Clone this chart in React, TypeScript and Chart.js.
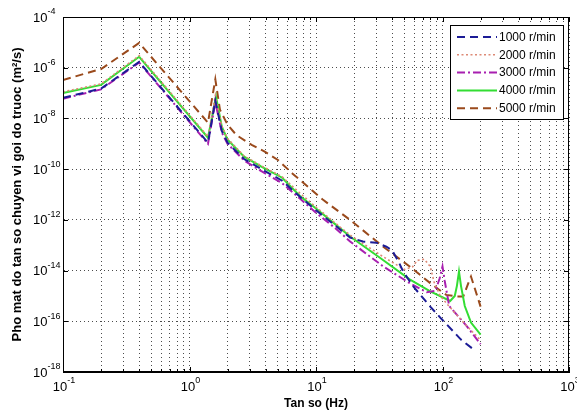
import React, { useEffect, useRef } from 'react';
import { Chart, registerables } from 'chart.js';

Chart.register(...registerables);

// ---- Data ----
const seriesLabels = ['1000 r/min', '2000 r/min', '3000 r/min', '4000 r/min', '5000 r/min'];

const freq1000 = [0.1, 0.2, 0.4, 1.4, 1.6, 1.8, 2.0, 2.7, 3.7, 5.4, 7.5, 10, 14, 18.6, 23.5, 30, 36, 40, 45, 49, 59, 80, 96, 140, 175];
const psd1000 = [6.5e-8, 1.5e-7, 1.7e-6, 1.1e-9, 5.0e-8, 3.2e-9, 1.1e-9, 2.5e-10, 1.0e-10, 3.5e-11, 7.9e-12, 2.4e-12, 6.3e-13, 2.0e-13, 1.4e-13, 1.26e-13, 8.7e-14, 6.3e-14, 2.2e-14, 8.9e-15, 2.3e-15, 3.8e-16, 1.4e-16, 1.9e-17, 7.9e-18];

const freq2000 = [0.1, 0.2, 0.4, 1.4, 1.6, 1.8, 2.0, 2.7, 3.7, 5.4, 7.5, 10, 14, 18.6, 34, 50, 58, 63, 72, 80, 86, 96, 110, 150, 200];
const psd2000 = [1.12e-7, 2.3e-7, 3.0e-6, 1.9e-9, 7.9e-8, 5.0e-9, 1.6e-9, 3.3e-10, 1.35e-10, 5.0e-11, 1.1e-11, 3.2e-12, 7.9e-13, 2.5e-13, 3.5e-14, 1.1e-14, 1.4e-14, 2.5e-14, 2.8e-14, 1.45e-14, 3.4e-15, 1.0e-15, 4.5e-16, 7.9e-17, 1.8e-17];

const freq3000 = [0.1, 0.2, 0.4, 1.4, 1.6, 1.8, 2.0, 2.7, 3.7, 5.4, 7.5, 10, 14, 18.6, 34, 55, 75, 88, 95, 100, 104, 113, 156, 200];
const psd3000 = [6.0e-8, 1.4e-7, 1.6e-6, 1.0e-9, 4.5e-8, 2.8e-9, 1.0e-9, 2.2e-10, 8.3e-11, 2.8e-11, 6.8e-12, 1.9e-12, 5.0e-13, 1.4e-13, 1.45e-14, 3.2e-15, 1.4e-15, 1.6e-15, 5.0e-15, 1.45e-14, 4.0e-15, 4.0e-16, 6.3e-17, 1.26e-17];

const freq4000 = [0.1, 0.2, 0.4, 1.4, 1.62, 1.8, 2.0, 2.7, 3.7, 5.4, 7.5, 10, 14, 18.6, 32, 55, 80, 115, 125, 130, 135, 140, 150, 168, 200];
const psd4000 = [1.0e-7, 2.1e-7, 2.7e-6, 1.74e-9, 7.1e-8, 4.7e-9, 1.45e-9, 3.1e-10, 1.26e-10, 4.6e-11, 8.5e-12, 2.8e-12, 7.1e-13, 2.2e-13, 3.2e-14, 4.5e-15, 1.5e-15, 6.3e-16, 1.0e-15, 2.5e-15, 9.1e-15, 2.5e-15, 4.0e-16, 8.9e-17, 3.0e-17];

const freq5000 = [0.1, 0.2, 0.4, 1.4, 1.6, 1.74, 2.0, 2.35, 3.1, 3.9, 5.0, 6.5, 9, 11.3, 18.6, 34, 55, 80, 107, 130, 146, 160, 168, 200];
const psd5000 = [3.3e-7, 8.9e-7, 9.5e-6, 6.8e-9, 3.5e-7, 2.2e-8, 5.6e-9, 2.2e-9, 9.1e-10, 5.0e-10, 2.3e-10, 6.8e-11, 1.7e-11, 6.3e-12, 1.0e-12, 8.7e-14, 1.45e-14, 3.2e-15, 1.1e-15, 9.5e-16, 9.5e-16, 3.2e-15, 5.8e-15, 3.8e-16];

const seriesFreqs = [freq1000, freq2000, freq3000, freq4000, freq5000];
const seriesValues = [psd1000, psd2000, psd3000, psd4000, psd5000];
const seriesColors = ['#1c1c96', '#dd8a76', '#a81fb0', '#33dd33', '#9a4a1c'];
const seriesDashes = [[8, 5], [2, 2.5], [8, 3, 2, 3], [], [8, 5]];
const seriesWidths = [2, 1.6, 2, 2, 2];

// tick values and labels: base "10" with exponent
const yTickValues = [1e-18, 1e-16, 1e-14, 1e-12, 1e-10, 1e-8, 1e-6, 1e-4];
const yTickExponents = ['-18', '-16', '-14', '-12', '-10', '-8', '-6', '-4'];
const xMajorValues = [0.1, 1, 10, 100, 1000];
const xTickExponents = ['-1', '0', '1', '2', '3'];
const tickBase = '10';
const xMinorMultipliers = [1, 2, 3, 4, 5, 6, 7, 8, 9];

const xTitle = 'Tan so (Hz)';
const yTitle = 'Pho mat do tan so chuyen vi goi do truoc (m²/s)';

const FONT = '"Liberation Sans", Arial, sans-serif';

function buildXTicks() {
  const ticks: { value: number }[] = [];
  for (let d = 0; d < xMajorValues.length - 1; d++) {
    for (const m of xMinorMultipliers) {
      ticks.push({ value: Number((m * xMajorValues[d]).toPrecision(3)) });
    }
  }
  ticks.push({ value: xMajorValues[xMajorValues.length - 1] });
  return ticks;
}

function isMajorX(v: number) {
  return xMajorValues.findIndex((m) => Math.abs(v / m - 1) < 1e-6);
}

const framePlugin = {
  id: 'frameAndTicks',
  afterDraw(chart: any) {
    const { ctx, chartArea } = chart;
    const { left, right, top, bottom } = chartArea;
    ctx.save();
    ctx.strokeStyle = '#000';
    ctx.lineWidth = 1;
    ctx.setLineDash([]);
    ctx.strokeRect(left + 0.5, top + 0.5, right - left - 1, bottom - top - 1);
    const xs = chart.scales.x;
    for (const t of xs.ticks) {
      const px = Math.round(xs.getPixelForValue(t.value)) + 0.5;
      const len = isMajorX(t.value) >= 0 ? 5 : 3;
      ctx.beginPath();
      ctx.moveTo(px, bottom);
      ctx.lineTo(px, bottom - len);
      ctx.moveTo(px, top);
      ctx.lineTo(px, top + len);
      ctx.stroke();
    }
    const ys = chart.scales.y;
    for (const v of yTickValues) {
      const py = Math.round(ys.getPixelForValue(v)) + 0.5;
      ctx.beginPath();
      ctx.moveTo(left, py);
      ctx.lineTo(left + 5, py);
      ctx.moveTo(right, py);
      ctx.lineTo(right - 5, py);
      ctx.stroke();
    }

    // tick labels: "10" with raised exponent
    const baseFont = `13px ${FONT}`;
    const expFont = `9px ${FONT}`;
    ctx.fillStyle = '#000';
    ctx.textBaseline = 'middle';
    ctx.textAlign = 'left';
    yTickValues.forEach((v, i) => {
      const py = ys.getPixelForValue(v);
      const x0 = left - 30;
      ctx.font = baseFont;
      ctx.fillText(tickBase, x0, py + 1);
      const w = ctx.measureText(tickBase).width;
      ctx.font = expFont;
      ctx.fillText(yTickExponents[i], x0 + w, py - 5);
    });
    xMajorValues.forEach((v, i) => {
      const px = xs.getPixelForValue(v);
      ctx.font = baseFont;
      const w = ctx.measureText(tickBase).width;
      ctx.font = expFont;
      const we = ctx.measureText(xTickExponents[i]).width;
      const x0 = px - (w + we) / 2 + 1;
      ctx.font = baseFont;
      ctx.fillText(tickBase, x0, bottom + 15);
      ctx.font = expFont;
      ctx.fillText(xTickExponents[i], x0 + w, bottom + 9);
    });
    ctx.restore();

    // legend box
    const boxRight = right - 6;
    const boxTop = top + 8;
    const boxW = 113;
    const boxH = 94;
    const boxLeft = boxRight - boxW;
    ctx.save();
    ctx.fillStyle = '#fff';
    ctx.fillRect(boxLeft, boxTop, boxW, boxH);
    ctx.strokeStyle = '#000';
    ctx.lineWidth = 1;
    ctx.strokeRect(boxLeft + 0.5, boxTop + 0.5, boxW, boxH);
    ctx.font = `12px ${FONT}`;
    ctx.textBaseline = 'middle';
    ctx.textAlign = 'left';
    chart.data.datasets.forEach((ds: any, i: number) => {
      const cy = boxTop + 12 + i * 17.8;
      ctx.strokeStyle = ds.borderColor;
      ctx.lineWidth = ds.borderWidth;
      ctx.setLineDash(ds.borderDash || []);
      ctx.beginPath();
      ctx.moveTo(boxLeft + 7, cy);
      ctx.lineTo(boxLeft + 47, cy);
      ctx.stroke();
      ctx.setLineDash([]);
      ctx.fillStyle = '#000';
      ctx.fillText(ds.label, boxLeft + 49, cy + 0.5);
    });
    ctx.restore();
  },
};

export default function App() {
  const canvasRef = useRef<HTMLCanvasElement | null>(null);

  useEffect(() => {
    document.body.style.margin = '0';
    const canvas = canvasRef.current;
    if (!canvas) return;

    const datasets = seriesLabels.map((label, i) => ({
      label,
      data: seriesFreqs[i].map((f, j) => ({ x: f, y: seriesValues[i][j] })),
      borderColor: seriesColors[i],
      backgroundColor: seriesColors[i],
      borderWidth: seriesWidths[i],
      borderDash: seriesDashes[i],
      pointRadius: 0,
      tension: 0,
      fill: false,
    }));

    const chart = new Chart(canvas, {
      type: 'line',
      data: { datasets },
      options: {
        responsive: false,
        animation: false,
        parsing: false,
        layout: { padding: { top: 17, right: 8, left: 0, bottom: 0 } },
        plugins: {
          legend: { display: false },
          tooltip: { enabled: false },
        },
        scales: {
          x: {
            type: 'logarithmic',
            min: 0.1,
            max: 1000,
            afterBuildTicks: (scale: any) => {
              scale.ticks = buildXTicks();
            },
            afterFit: (scale: any) => {
              scale.height = 42;
              scale.paddingLeft = 0;
              scale.paddingRight = 0;
            },
            ticks: { display: false, autoSkip: false },
            grid: {
              color: 'rgba(0,0,0,0.7)',
              lineWidth: 1,
              drawTicks: false,
            },
            border: { display: true, color: '#000', dash: [1, 3] },
            title: {
              display: true,
              text: xTitle,
              color: '#000',
              font: { family: FONT, size: 12, weight: 'bold' },
              padding: { top: 0, bottom: 3 },
            },
          },
          y: {
            type: 'logarithmic',
            min: 1e-18,
            max: 1e-4,
            afterBuildTicks: (scale: any) => {
              scale.ticks = yTickValues.map((v) => ({ value: v }));
            },
            afterFit: (scale: any) => {
              scale.width = 63;
              scale.paddingTop = 0;
              scale.paddingBottom = 0;
            },
            ticks: { display: false, autoSkip: false },
            grid: {
              color: 'rgba(0,0,0,0.7)',
              lineWidth: 1,
              drawTicks: false,
            },
            border: { display: true, color: '#000', dash: [1, 3] },
            title: {
              display: true,
              text: yTitle,
              color: '#000',
              font: { family: FONT, size: 13, weight: 'bold' },
              padding: { top: 10, bottom: 0 },
            },
          },
        },
      } as any,
      plugins: [framePlugin],
    });

    return () => {
      chart.destroy();
    };
  }, []);

  return (
    <div style={{ width: 577, height: 414, background: '#fff' }}>
      <canvas ref={canvasRef} width={577} height={414} style={{ display: 'block' }} />
    </div>
  );
}
